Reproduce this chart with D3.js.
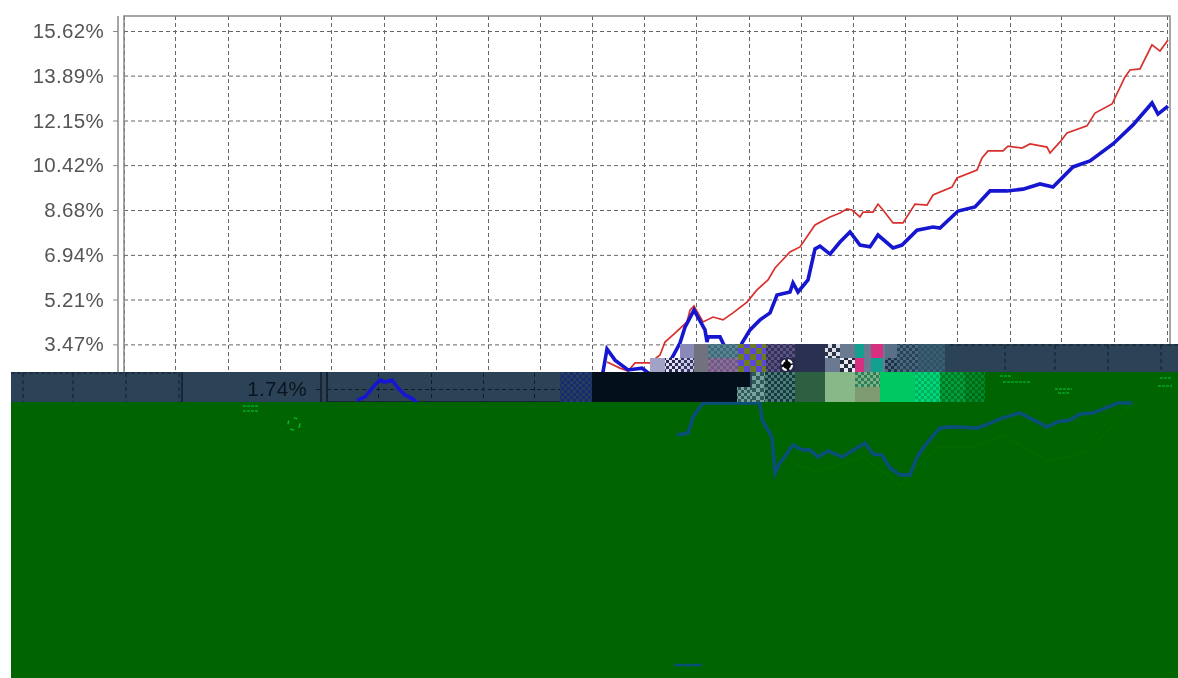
<!DOCTYPE html>
<html>
<head>
<meta charset="utf-8">
<script src="https://cdn.jsdelivr.net/npm/d3@7"></script>
<style>
html,body{margin:0;padding:0;background:#fff}
svg{display:block;filter:blur(0.55px)}
text{font-family:"Liberation Sans",Arial,sans-serif}
</style>
</head>
<body>
<svg id="c" width="1178" height="678"></svg>
<script>
// ---- chart data: [trading day, return %] ----
const tickValues = [1.74, 3.47, 5.21, 6.94, 8.68, 10.42, 12.15, 13.89, 15.62];
const tickLabels = ["1.74%", "3.47%", "5.21%", "6.94%", "8.68%", "10.42%", "12.15%", "13.89%", "15.62%"];
const gridDays = [0, 51, 104, 156, 207, 260, 312, 364, 416, 468, 520, 572, 625, 677, 729, 781, 833, 886, 937, 990, 1043];
const redDays = [483,496,504,511,516,526,536,541,551,563,566,570,579,589,599,609,623,633,644,651,666,676,691,706,716,723,728,736,739,749,754,759,769,779,791,803,809,828,833,853,858,864,879,884,898,906,923,926,936,943,963,971,988,1001,1006,1016,1028,1036,1044];
const redValues = [2.79,2.55,2.44,2.75,2.75,2.75,3.06,3.56,3.91,4.34,4.80,4.96,4.34,4.53,4.42,4.69,5.11,5.58,5.97,6.43,7.05,7.25,8.10,8.41,8.56,8.72,8.68,8.41,8.60,8.60,8.91,8.68,8.18,8.18,8.91,8.87,9.26,9.57,9.92,10.23,10.70,10.97,10.97,11.16,11.08,11.24,11.12,10.89,11.32,11.67,11.94,12.44,12.79,13.84,14.11,14.15,15.08,14.84,15.27];
const blueDays = [30,38,48,53,58,65,71,78,86,95,470,479,483,491,504,518,523,536,556,561,570,581,583,584,596,599,611,618,626,636,646,653,666,669,674,684,691,696,706,716,726,736,746,754,769,778,793,809,816,834,851,866,883,899,916,929,949,966,989,1009,1028,1034,1044];
const blueValues = [1.31,1.43,1.90,2.09,2.01,2.09,1.78,1.51,1.35,1.00,1.00,2.40,3.29,2.86,2.48,2.55,2.40,2.09,3.52,4.14,4.80,4.03,3.56,3.76,3.76,3.52,2.67,3.52,4.03,4.42,4.69,5.38,5.50,5.85,5.50,5.97,7.17,7.28,6.97,7.44,7.83,7.32,7.25,7.71,7.21,7.32,7.90,8.02,7.98,8.64,8.80,9.42,9.42,9.49,9.69,9.57,10.35,10.58,11.24,11.98,12.83,12.40,12.71];
const lowerDays = [553,564,569,579,636,638,644,648,651,656,669,678,686,694,704,718,741,749,758,766,776,786,793,803,816,829,854,879,896,923,933,946,956,969,994,1008];
const lowerValues = [-0.04,0.03,0.65,1.20,1.20,0.54,0.15,-0.12,-1.52,-1.13,-0.43,-0.62,-0.62,-0.90,-0.66,-0.90,-0.35,-0.78,-0.82,-1.32,-1.59,-1.59,-0.90,-0.35,0.23,0.27,0.23,0.62,0.81,0.27,0.46,0.54,0.77,0.81,1.20,1.20];
const ghostDays = [669,693,739,776,796,816,849,879,923,963,1009];
const ghostValues = [-1.13,-1.47,-0.89,-1.98,-1.13,-0.51,-0.51,-0.04,-1.05,-0.70,1.17];

const svg = d3.select("#c");
const defs = svg.append("defs");
const x = d3.scaleLinear().domain([0, 1044]).range([124, 1168]);
const y = d3.scaleLinear().domain([1.74, 15.62]).range([389, 31]);
const pts = (ds, vs) => ds.map((d, i) => [d, vs[i]]);
const line = d3.line().x(d => x(d[0])).y(d => y(d[1]));

function clip(id, a, b, w, h) {
  defs.append("clipPath").attr("id", id).append("rect").attr("x", a).attr("y", b).attr("width", w).attr("height", h);
}
clip("plot", 124, 16, 1046, 400);
clip("bandCopy", 186, 372, 374, 30);

function frame(g, o) {
  const yGrid = d3.axisLeft(y).tickValues(tickValues).tickSize(-(x(1044) - x(0))).tickFormat("");
  g.append("g").attr("transform", `translate(${x(0)},0)`).call(yGrid)
    .call(s => s.select(".domain").remove())
    .selectAll("line").attr("stroke", o.grid).attr("stroke-dasharray", "4,3");
  const xGrid = d3.axisTop(x).tickValues(gridDays).tickSize(-386).tickFormat("");
  g.append("g").attr("transform", "translate(0,16)").call(xGrid)
    .call(s => s.select(".domain").remove())
    .selectAll("line").attr("stroke", o.grid).attr("stroke-dasharray", "4,3");
  g.append("rect").attr("x", x(0)).attr("y", 16).attr("width", 1046).attr("height", 386)
    .attr("fill", "none").attr("stroke", o.frame).attr("stroke-width", 1.5);
  const axis = d3.axisLeft(y).tickValues(tickValues).tickSize(5).tickPadding(9)
    .tickFormat((d, i) => tickLabels[i]);
  const ag = g.append("g").attr("transform", "translate(118,0)").call(axis);
  ag.select(".domain").attr("stroke", o.frame).attr("stroke-width", 1.5).attr("d", "M0,16V402");
  ag.selectAll(".tick line").attr("stroke", o.frame);
  ag.selectAll("text").attr("fill", o.text).style("font-size", "20.5px").style("letter-spacing", "0.3px");
  const lines = g.append("g").attr("clip-path", o.clipLines ? "url(#plot)" : null);
  lines.append("path").attr("d", line(pts(redDays, redValues))).attr("fill", "none")
    .attr("stroke", "#d8302c").attr("stroke-width", 1.7);
  lines.append("path").attr("d", line(pts(blueDays, blueValues))).attr("fill", "none")
    .attr("stroke", "#1616d0").attr("stroke-width", 3.6);
}

// clean part of the chart
frame(svg.append("g"), { grid: "#666", frame: "#888", text: "#555", clipLines: true });

// ---- damaged part of the picture ----
const SLATE = "#2c4257", GREEN = "#006400";
svg.append("rect").attr("x", 11).attr("y", 372).attr("width", 1167).attr("height", 30).attr("fill", SLATE);
svg.append("line").attr("x1", 11).attr("x2", 180).attr("y1", 373).attr("y2", 373)
  .attr("stroke", "#101c28").attr("stroke-dasharray", "4,2");
[23, 73, 126, 179].forEach(a => svg.append("line").attr("x1", a).attr("x2", a).attr("y1", 373).attr("y2", 402)
  .attr("stroke", "#101c28").attr("stroke-dasharray", "4,3"));
svg.append("line").attr("x1", 182).attr("x2", 182).attr("y1", 372).attr("y2", 402).attr("stroke", "#101c28").attr("stroke-width", 1.5);

const copy = svg.append("g").attr("clip-path", "url(#bandCopy)").append("g").attr("transform", "translate(203,0)");
frame(copy, { grid: "#101c28", frame: "#101c28", text: "#0a141e", clipLines: false });

svg.append("rect").attr("x", 11).attr("y", 402).attr("width", 1167).attr("height", 276).attr("fill", GREEN);
svg.append("rect").attr("x", 985).attr("y", 372).attr("width", 193).attr("height", 30).attr("fill", GREEN);

svg.append("path").attr("d", line(pts(ghostDays, ghostValues))).attr("fill", "none")
  .attr("stroke", "#056a03").attr("stroke-width", 1.4);
svg.append("path").attr("d", line(pts(lowerDays, lowerValues))).attr("fill", "none")
  .attr("stroke", "#0a4f78").attr("stroke-width", 3.6);
svg.append("line").attr("x1", 674).attr("x2", 702).attr("y1", 665).attr("y2", 665)
  .attr("stroke", "#0a4f78").attr("stroke-width", 2.5);

let pid = 0;
function dither(a, b, size) {
  const id = "p" + (pid++), s = size || 3;
  const p = defs.append("pattern").attr("id", id).attr("width", 2 * s).attr("height", 2 * s).attr("patternUnits", "userSpaceOnUse");
  p.append("rect").attr("width", 2 * s).attr("height", 2 * s).attr("fill", a);
  p.append("rect").attr("width", s).attr("height", s).attr("fill", b);
  p.append("rect").attr("x", s).attr("y", s).attr("width", s).attr("height", s).attr("fill", b);
  return `url(#${id})`;
}
const tiles = [
  [650,665,358,372,"#a2a2c6"],[665,680,358,372,"#e4e0f0","#2a2a58"],
  [680,694,344,358,"#8a8ab8"],[680,694,358,372,"#c8c8e0","#333366"],
  [694,708,344,372,"#72727f"],
  [708,738,344,358,"#3d6a7a","#5a8490"],[708,738,358,372,"#6a5a8a","#8f6c92"],
  [738,766,344,372,"#5b48d8","#6c7a20",6],
  [766,795,344,358,"#33305c","#5a5580"],[766,780,358,372,"#33305c","#5a5580"],[780,795,358,372,"#282848"],
  [795,825,344,372,"#2a3050"],
  [825,840,344,358,"#dde0e8","#2a3448",4],[840,855,344,358,"#6a7a90"],
  [825,840,358,372,"#6a7a90"],[840,855,358,372,"#e8e8f0","#222c3c",4],
  [855,885,344,372,"#6a7a90"],
  [855,864,344,358,"#14a090"],[871,883,344,358,"#d83080"],[855,864,358,372,"#d83080"],[871,883,358,372,"#14a090"],
  [885,897,344,358,"#5a7088"],[885,897,358,372,"#1e3044","#4a6a80"],
  [897,918,344,372,"#2a4058","#486a80"],[918,945,344,372,"#305068","#3a6070"],
  [945,1178,344,372,SLATE],
  [560,592,372,402,"#24405a","#1a2a70"],
  [592,750,372,402,"#03101c"],
  [737,752,387,402,"#2f5a5a","#7aa0a0"],[752,765,372,402,"#2f5a5a","#7aa0a0",4],
  [765,795,372,402,"#143c3c","#4f7c7c"],
  [795,825,372,402,"#2c6040"],
  [825,855,372,402,"#88b888"],[855,880,372,387,"#2a8060","#80b080"],[855,880,387,402,"#7d9a70"],
  [880,915,372,402,"#00c860"],
  [915,940,372,402,"#00b060","#00d878"],
  [940,965,372,402,"#007a20","#00a040"],
  [965,985,372,402,"#006a10","#008a30"]
];
svg.append("g").selectAll("rect").data(tiles).join("rect")
  .attr("x", d => d[0]).attr("y", d => d[2]).attr("width", d => d[1] - d[0]).attr("height", d => d[3] - d[2])
  .attr("fill", d => d[5] ? dither(d[4], d[5], d[6]) : d[4]);

svg.append("circle").attr("cx", 787).attr("cy", 365).attr("r", 5).attr("fill", "#000")
  .attr("stroke", "#fff").attr("stroke-width", 2).attr("stroke-dasharray", "5,3");

// dashed grid that survives in the slate strip
[1005, 1055, 1108, 1161].forEach(a => svg.append("line").attr("x1", a).attr("x2", a).attr("y1", 345).attr("y2", 372)
  .attr("stroke", "#101c28").attr("stroke-dasharray", "4,3"));
svg.append("line").attr("x1", 950).attr("x2", 1178).attr("y1", 345).attr("y2", 345)
  .attr("stroke", "#101c28").attr("stroke-dasharray", "4,3");

// bright specks on the green
const specks = svg.append("g").attr("stroke", "#00c840").attr("stroke-dasharray", "3,1");
[[243,258,406],[243,258,411],[1055,1072,389],[1058,1070,393],[1160,1172,378],[1158,1172,386],[1000,1012,376],[1003,1030,382]].forEach(s =>
  specks.append("line").attr("x1", s[0]).attr("x2", s[1]).attr("y1", s[2]).attr("y2", s[2]));
svg.append("circle").attr("cx", 294).attr("cy", 424).attr("r", 6).attr("fill", "none")
  .attr("stroke", "#00c840").attr("stroke-width", 1.2).attr("stroke-dasharray", "4,5");
</script>
</body>
</html>
